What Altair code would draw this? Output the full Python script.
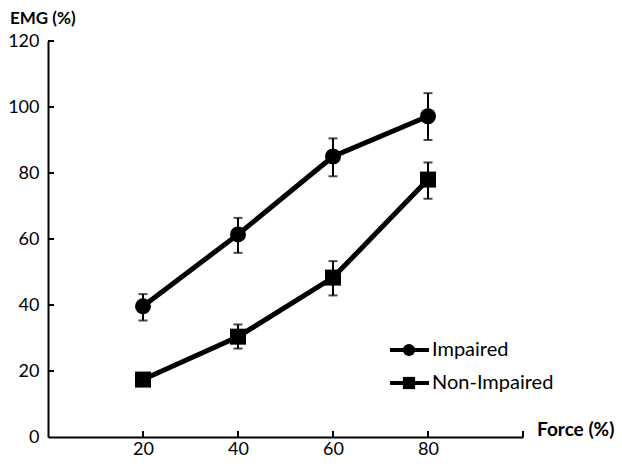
import altair as alt
import pandas as pd

# ---- data ----
force = [20, 40, 60, 80]
series_names = ["Impaired", "Non-Impaired"]
impaired_mean = [39.6, 61.4, 85.0, 97.2]
impaired_low = [35.3, 55.8, 79.0, 90.0]
impaired_high = [43.3, 66.4, 90.5, 104.2]
nonimpaired_mean = [17.4, 30.4, 48.3, 78.0]
nonimpaired_low = [16.0, 26.8, 42.9, 72.2]
nonimpaired_high = [18.8, 34.1, 53.3, 83.2]
x_tick_values = [20, 40, 60, 80]
x_tick_marks = [20, 40, 60, 80, 100]
y_tick_values = [0, 20, 40, 60, 80, 100, 120]
x_title = "Force (%)"
y_title = "EMG (%)"

rows = []
for name, m, lo, hi in [
    (series_names[0], impaired_mean, impaired_low, impaired_high),
    (series_names[1], nonimpaired_mean, nonimpaired_low, nonimpaired_high),
]:
    for f, a, b, c in zip(force, m, lo, hi):
        rows.append({"series": name, "force": f, "emg": a, "low": b, "high": c})
df = pd.DataFrame(rows)

FONT = "Lato"
W, H = 475, 396

x_scale = alt.Scale(domain=[0, 100], nice=False, zero=False)
y_scale = alt.Scale(domain=[0, 120], nice=False)
shape_scale = alt.Scale(domain=series_names, range=["circle", "square"])

x_axis = alt.Axis(values=x_tick_values, title=None, grid=False, ticks=False,
                  domainColor="black", domainWidth=2, labelFont=FONT,
                  labelFontSize=18, labelColor="black", labelPadding=3,
                  labelFlush=False)
y_axis = alt.Axis(values=y_tick_values, title=None, grid=False, ticks=False,
                  domainColor="black", domainWidth=2, labelFont=FONT,
                  labelFontSize=18, labelColor="black", labelPadding=9,
                  labelFlush=False)

base = alt.Chart(df)

lines = base.mark_line(color="black", strokeWidth=5).encode(
    x=alt.X("force:Q", scale=x_scale, axis=x_axis),
    y=alt.Y("emg:Q", scale=y_scale, axis=y_axis),
    detail="series:N",
)

err_rule = base.mark_rule(color="black", strokeWidth=2).encode(
    x=alt.X("force:Q", scale=x_scale, axis=x_axis),
    y=alt.Y("low:Q", scale=y_scale, axis=y_axis),
    y2="high:Q",
)
cap_lo = base.mark_tick(color="black", orient="horizontal", size=9, thickness=2).encode(
    x=alt.X("force:Q", scale=x_scale, axis=x_axis),
    y=alt.Y("low:Q", scale=y_scale, axis=y_axis),
)
cap_hi = base.mark_tick(color="black", orient="horizontal", size=9, thickness=2).encode(
    x=alt.X("force:Q", scale=x_scale, axis=x_axis),
    y=alt.Y("high:Q", scale=y_scale, axis=y_axis),
)

points = base.mark_point(filled=True, color="black", opacity=1, size=256).encode(
    x=alt.X("force:Q", scale=x_scale, axis=x_axis),
    y=alt.Y("emg:Q", scale=y_scale, axis=y_axis),
    shape=alt.Shape("series:N", scale=shape_scale, legend=None),
)

# inward axis ticks
xt = alt.Chart(pd.DataFrame({"t": x_tick_marks})).mark_rule(color="black", strokeWidth=2).encode(
    x=alt.X("t:Q", scale=x_scale, axis=x_axis),
    y=alt.value(H),
    y2=alt.value(H - 6),
)
yt = alt.Chart(pd.DataFrame({"t": y_tick_values[1:]})).mark_rule(color="black", strokeWidth=2).encode(
    y=alt.Y("t:Q", scale=y_scale, axis=y_axis),
    x=alt.value(0),
    x2=alt.value(6),
)

# axis titles
title_df = pd.DataFrame({"label": [y_title, x_title]})
y_title_mark = alt.Chart(title_df).transform_filter(
    alt.datum.label == y_title
).mark_text(align="left", baseline="middle", font=FONT, fontSize=17,
            fontWeight="bold", color="black").encode(
    text="label:N", x=alt.value(-38), y=alt.value(-22)
)
x_title_mark = alt.Chart(title_df).transform_filter(
    alt.datum.label == x_title
).mark_text(align="left", baseline="middle", font=FONT, fontSize=19,
            fontWeight="bold", color="black").encode(
    text="label:N", x=alt.value(489), y=alt.value(H - 7)
)

# manual legend (line + marker + label)
legend_row_y = [309, 342]
leg_df = pd.DataFrame({"series": series_names})
legend_layers = []
for name, yy in zip(series_names, legend_row_y):
    lb = alt.Chart(leg_df).transform_filter(alt.datum.series == name)
    legend_layers.append(lb.mark_rule(color="black", strokeWidth=4).encode(
        x=alt.value(342), x2=alt.value(381), y=alt.value(yy)))
    legend_layers.append(lb.mark_point(filled=True, color="black", opacity=1, size=150).encode(
        x=alt.value(361), y=alt.value(yy),
        shape=alt.Shape("series:N", scale=shape_scale, legend=None)))
    legend_layers.append(lb.mark_text(align="left", baseline="middle", font=FONT,
                                      fontSize=20, color="black").encode(
        x=alt.value(384), y=alt.value(yy), text="series:N"))

chart = alt.layer(
    lines, err_rule, cap_lo, cap_hi, points, xt, yt,
    y_title_mark, x_title_mark, *legend_layers
).properties(
    width=W, height=H,
    padding={"left": 40, "top": 33, "right": 91, "bottom": 23},
    autosize=alt.AutoSizeParams(type="none"),
    background="white",
).configure_view(stroke=None)

chart.save("out.html", embed_options={"renderer": "svg", "actions": False})
